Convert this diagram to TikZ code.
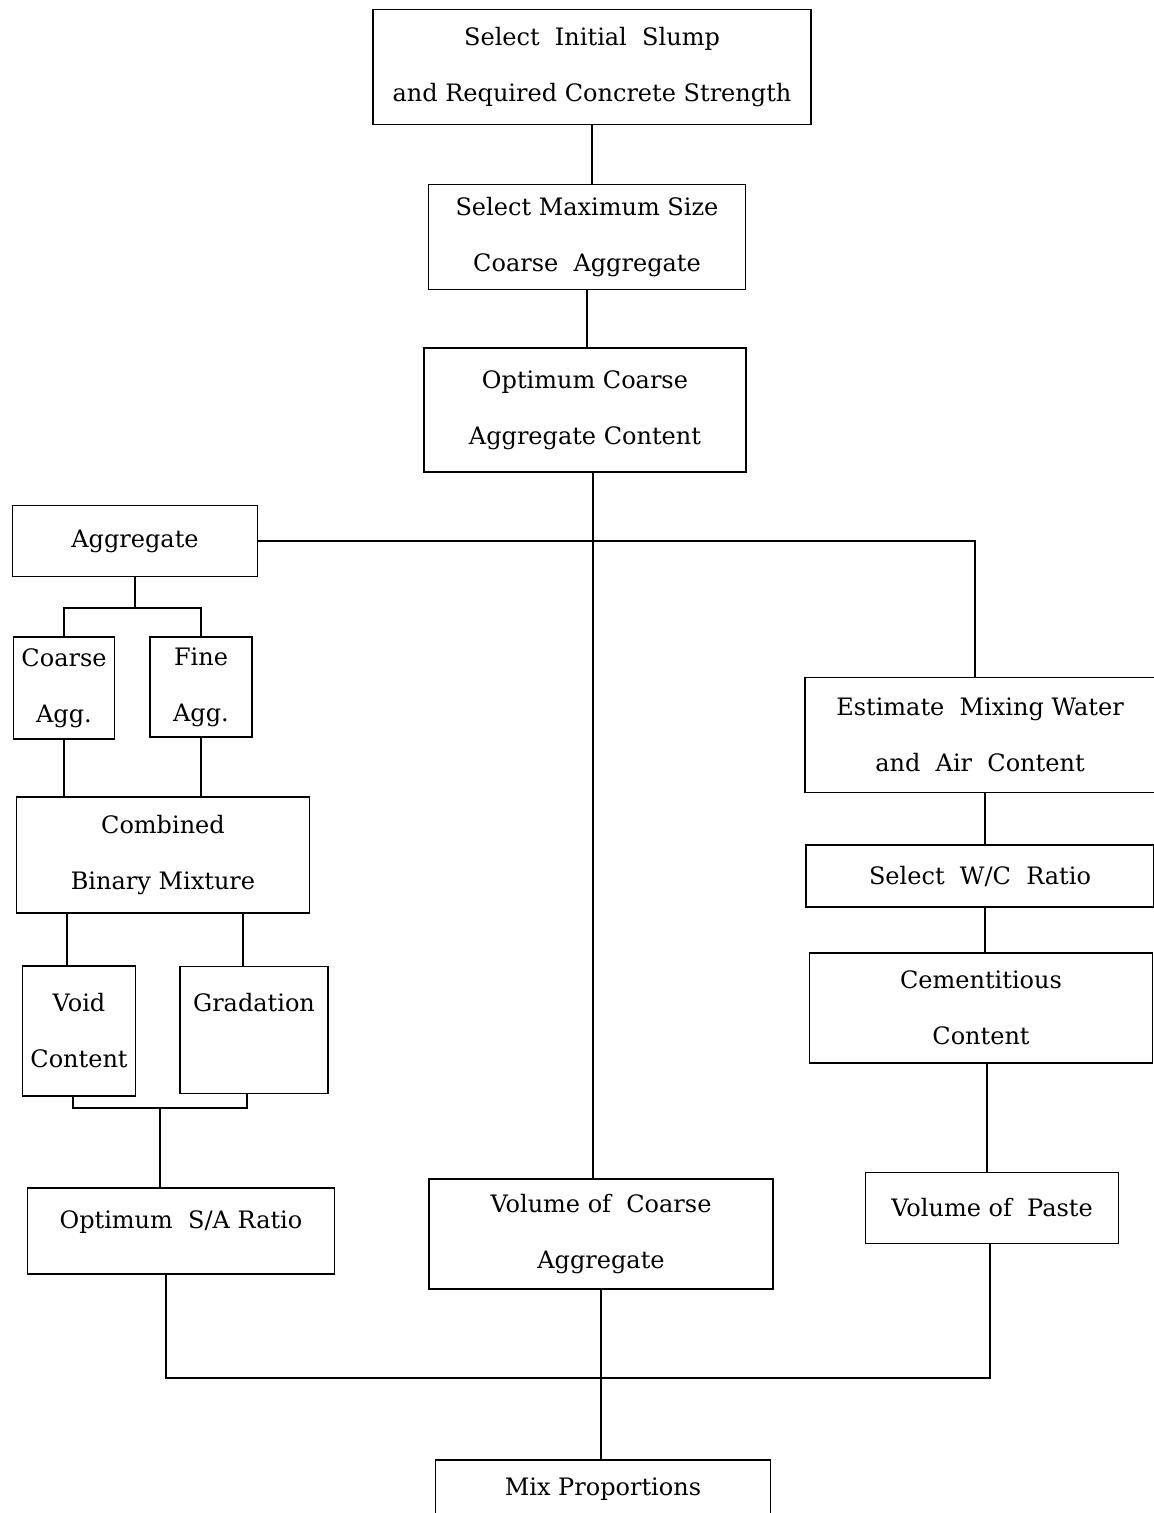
\documentclass[tikz,border=0pt]{standalone}
\usepackage{fontspec}
\setmainfont{DejaVu Serif}
\usetikzlibrary{calc}

\tikzset{
  blk/.style={draw, rectangle, line width=1.6pt, inner sep=0pt, align=center,
    font=\fontsize{24}{56}\selectfont},
  sz/.style 2 args={minimum width=#1pt, minimum height=#2pt},
  link/.style={line width=1.6pt}
}

\begin{document}
\begin{tikzpicture}[x=1pt,y=-1pt]
            \useasboundingbox (0,0) rectangle (1154,1513);
            \clip (0,0) rectangle (1154,1513);

            % main column
            \node[blk, sz={438}{115}] (slump) at (592,67) {Select~~Initial~~Slump\\and Required Concrete Strength};
            \node[blk, sz={317}{105}] (maxsize) at (587,237) {Select Maximum Size\\Coarse~~Aggregate};
            \node[blk, sz={322}{124}] (optca) at (585,410) {Optimum Coarse\\Aggregate Content};

            % aggregate branch
            \node[blk, sz={245}{71}] (agg) at (135,541) {Aggregate};
            \node[blk, sz={101}{102}] (cagg) at (64,688) {Coarse\\Agg.};
            \node[blk, sz={102}{100}] (fagg) at (201,687) {Fine\\Agg.};
            \node[blk, sz={293}{116}] (comb) at (163,855) {Combined\\Binary Mixture};
            \node[blk, sz={113}{130}] (void) at (79,1031) {Void\\Content};
            \node[blk, sz={148}{127}] (grad) at (254,1030) {Gradation\\~};
            \node[blk, sz={307}{86}] (sar) at (181,1231) {\raisebox{22pt}{Optimum~~S/A Ratio}};

            % paste branch
            \node[blk, sz={350}{115}] (water) at (980,735) {Estimate~~Mixing Water\\and~~Air~~Content};
            \node[blk, sz={348}{62}] (wc) at (980,876) {Select~~W/C~~Ratio};
            \node[blk, sz={343}{110}] (cem) at (981,1008) {Cementitious\\Content};
            \node[blk, sz={253}{71}] (paste) at (992,1208) {Volume of~~Paste};

            \node[blk, sz={344}{110}] (vca) at (601,1234) {Volume of~~Coarse\\Aggregate};
            \node[blk, sz={335}{110}] (mix) at (603,1515) {Mix Proportions\\~};

            \coordinate (aggfork) at (132,608);
            \coordinate (vgjoin) at (160,1108);
            \coordinate (merge) at (601,1378);

            \draw[link] (slump.south) -- (slump.south |- maxsize.north);
            \draw[link] (maxsize.south) -- (maxsize.south |- optca.north);
            \draw[link] ([xshift=8pt]optca.south) -- ([xshift=8pt]optca.south |- vca.north);
            \draw[link] (agg.east) -| ([xshift=-5pt]water.north);

            \draw[link] (agg.south) -- (agg.south |- aggfork);
            \draw[link] (cagg.north) |- (aggfork) -| (fagg.north);
            \draw[link] (cagg.south) -- (cagg.south |- comb.north);
            \draw[link] (fagg.south) -- (fagg.south |- comb.north);
            \draw[link] ([xshift=-12pt]void.north) -- ([xshift=-12pt]void.north |- comb.south);
            \draw[link] ([xshift=-11pt]grad.north) -- ([xshift=-11pt]grad.north |- comb.south);
            \draw[link] ([xshift=-6pt]void.south) |- (vgjoin) -| ([xshift=-7pt]grad.south);
            \draw[link] (vgjoin) -- (vgjoin |- sar.north);

            \draw[link] ([xshift=5pt]water.south) -- ([xshift=5pt]water.south |- wc.north);
            \draw[link] ([xshift=5pt]wc.south) -- ([xshift=5pt]wc.south |- cem.north);
            \draw[link] ([xshift=6pt]cem.south) -- ([xshift=6pt]cem.south |- paste.north);

            \draw[link] ([xshift=-15pt]sar.south) |- (merge) -| ([xshift=-2pt]paste.south);
            \draw[link] (vca.south) -- (vca.south |- mix.north);
        \end{tikzpicture}
\end{document}
